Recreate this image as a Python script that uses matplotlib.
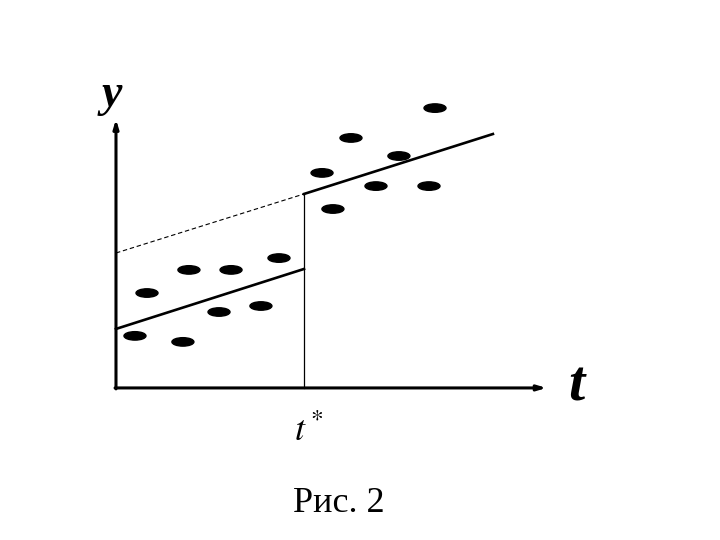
import matplotlib
matplotlib.use("Agg")
import matplotlib.pyplot as plt
from matplotlib.patches import Ellipse
import numpy as np

plt.rcParams['mathtext.fontset'] = 'stix'

# data (t* = 10)
t_before = [1.01, 1.65, 3.56, 3.88, 5.48, 6.12, 7.71, 8.67]
y_before = [2.77, 5.05, 2.45, 6.28, 4.04, 6.28, 4.36, 6.91]
t_after = [10.96, 11.54, 12.5, 13.83, 15.05, 16.65, 16.97]
y_after = [11.44, 9.52, 13.30, 10.74, 12.34, 10.74, 14.89]
t_star = 10.0
line_before_t = [0.0, 10.0]
line_before_y = [3.14, 6.33]
line_dash_t = [0.0, 10.0]
line_dash_y = [7.18, 10.32]
line_after_t = [10.0, 20.05]
line_after_y = [10.32, 13.51]
t_axis_end = 22.9
y_axis_end = 14.3

fig = plt.figure(figsize=(7.2, 5.4), dpi=100)
ax = fig.add_axes([0, 0, 1, 1])
ax.set_xlim(-6.17, 32.13)
ax.set_ylim(-8.09, 20.64)
ax.axis('off')

# axes with arrows
ax.annotate('', xy=(t_axis_end, 0), xytext=(-0.05, 0),
            arrowprops=dict(arrowstyle='-|>,head_length=0.5,head_width=0.15', lw=2.2, color='black',
                            shrinkA=0, shrinkB=0))
ax.annotate('', xy=(0, y_axis_end), xytext=(0, -0.05),
            arrowprops=dict(arrowstyle='-|>,head_length=0.5,head_width=0.15', lw=2.2, color='black',
                            shrinkA=0, shrinkB=0))

# vertical line at t*
ax.plot([t_star, t_star], [0, line_dash_y[1]], color='black', lw=0.9)

# regression lines
ax.plot(line_before_t, line_before_y, color='black', lw=1.9)
ax.plot(line_dash_t, line_dash_y, color='black', lw=0.8, ls=(0, (4, 2.5)))
ax.plot(line_after_t, line_after_y, color='black', lw=1.9)

# points as ellipses
for tx, ty in zip(t_before + t_after, y_before + y_after):
    ax.add_patch(Ellipse((tx, ty), width=1.17, height=0.45, color='black'))

# labels
ax.text(-0.25, 15.6, 'y', fontsize=33, family='Liberation Serif', style='italic',
        weight='bold', ha='center', va='center')
ax.text(24.5, 0.1, 't', fontsize=42, family='Liberation Serif', style='italic',
        weight='bold', ha='center', va='center')
ax.text(t_star + 0.26, -2.3, r'$t^*$', fontsize=26, ha='center', va='center')
ax.text(11.85, -6.6, 'Рис. 2', fontsize=26, family='Liberation Serif', ha='center', va='baseline')

fig.savefig('out.png', dpi=100)
